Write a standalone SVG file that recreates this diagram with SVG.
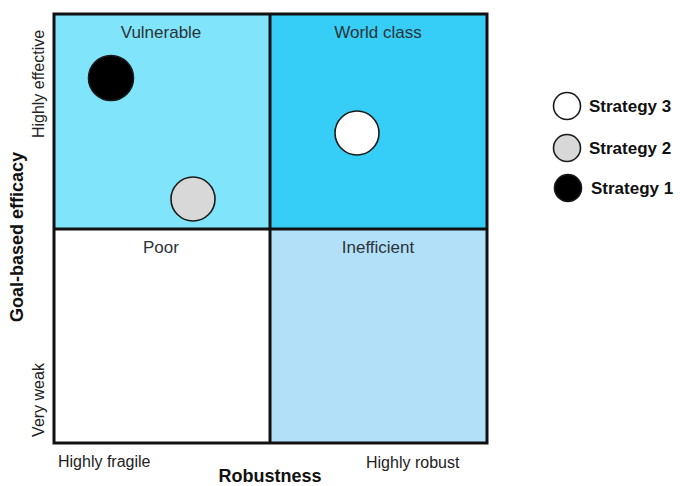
<svg xmlns="http://www.w3.org/2000/svg" width="680" height="486" viewBox="0 0 680 486">
<style>
.q{font-family:"Liberation Sans",Arial,sans-serif;font-size:17px;fill:#2b3338;text-anchor:middle}
.ax{font-family:"Liberation Sans",Arial,sans-serif;font-size:16px;fill:#222}
.b{font-family:"Liberation Sans",Arial,sans-serif;font-weight:bold;fill:#111}
.c{stroke:#1a1a1a;stroke-width:1.6}
</style>
<rect width="680" height="486" fill="#fff"/>
<g id="quadrants">
<g id="vulnerable"><rect x="54" y="14" width="216" height="215" fill="#80e5fb"/><text class="q" x="161" y="38">Vulnerable</text></g>
<g id="world-class"><rect x="270" y="14" width="217" height="215" fill="#36cdf6"/><text class="q" x="378" y="38">World class</text></g>
<g id="poor"><rect x="54" y="229" width="216" height="214" fill="#fff"/><text class="q" x="161" y="253">Poor</text></g>
<g id="inefficient"><rect x="270" y="229" width="217" height="214" fill="#b3e0f9"/><text class="q" x="378" y="253">Inefficient</text></g>
</g>
<g id="grid" fill="none" stroke="#111" stroke-width="3">
<rect x="54" y="14" width="433" height="429"/>
<line x1="270" y1="14" x2="270" y2="443"/>
<line x1="54" y1="229" x2="487" y2="229"/>
</g>
<g id="points">
<circle id="s1" class="c" cx="111" cy="78" r="22.5" fill="#000"/>
<circle id="s2" class="c" cx="193" cy="199" r="22" fill="#d8d8d8"/>
<circle id="s3" class="c" cx="357" cy="133" r="22" fill="#fff"/>
</g>
<g id="axes">
<text class="ax" transform="translate(44,84) rotate(-90)" text-anchor="middle">Highly effective</text>
<text class="ax" transform="translate(44,400) rotate(-90)" text-anchor="middle">Very weak</text>
<text class="b" font-size="18" transform="translate(23,237) rotate(-90)" text-anchor="middle">Goal-based efficacy</text>
<text class="ax" x="58" y="467" font-size="16.5">Highly fragile</text>
<text class="ax" x="366" y="468" font-size="16.5">Highly robust</text>
<text class="b" font-size="18" x="270" y="482" text-anchor="middle">Robustness</text>
</g>
<g id="legend">
<g id="leg3"><circle class="c" cx="567" cy="106" r="13.5" fill="#fff"/><text class="b" font-size="17" x="589" y="112">Strategy 3</text></g>
<g id="leg2"><circle class="c" cx="567" cy="148" r="13.5" fill="#d8d8d8"/><text class="b" font-size="17" x="589" y="154">Strategy 2</text></g>
<g id="leg1"><circle class="c" cx="568" cy="188" r="13.5" fill="#000"/><text class="b" font-size="17" x="591" y="194">Strategy 1</text></g>
</g>
</svg>
